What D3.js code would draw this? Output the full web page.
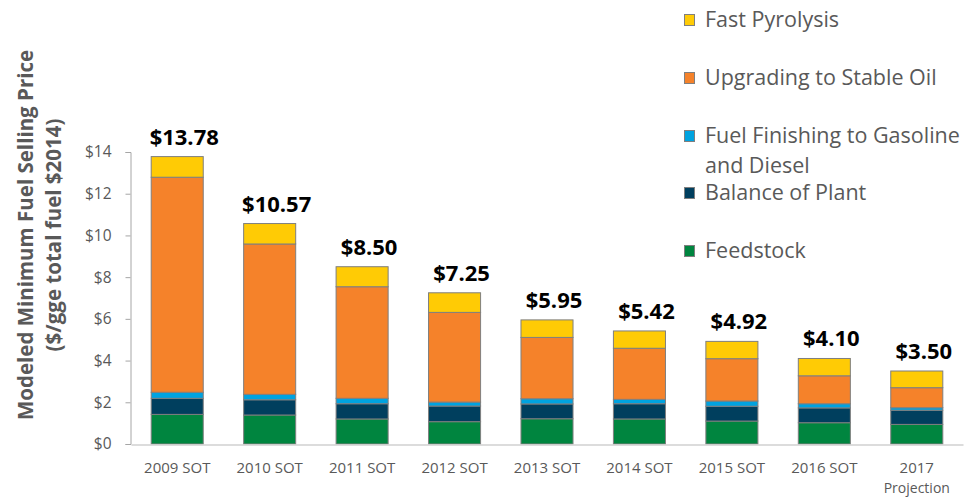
<!DOCTYPE html>
<html>
<head>
<meta charset="utf-8">
<script src="https://cdn.jsdelivr.net/npm/d3@7"></script>
<style>
  body { margin: 0; background: #fff; }
  svg { display: block; font-family: "Open Sans", sans-serif; }
</style>
</head>
<body>
<svg id="chart" width="964" height="498"></svg>
<script>
// categories and series ($/gge, 2014 dollars)
const years = ['2009 SOT', '2010 SOT', '2011 SOT', '2012 SOT', '2013 SOT', '2014 SOT', '2015 SOT', '2016 SOT', '2017\nProjection']
const feedstock = [1.42, 1.39, 1.20, 1.07, 1.21, 1.20, 1.10, 1.02, 0.94]
const balanceOfPlant = [0.77, 0.73, 0.73, 0.75, 0.71, 0.73, 0.71, 0.71, 0.68]
const fuelFinishing = [0.29, 0.26, 0.26, 0.19, 0.25, 0.21, 0.25, 0.20, 0.12]
const upgrading = [10.31, 7.21, 5.35, 4.30, 2.94, 2.45, 2.03, 1.34, 0.96]
const fastPyrolysis = [0.99, 0.98, 0.96, 0.94, 0.84, 0.83, 0.83, 0.83, 0.80]
const totals = ['$13.78', '$10.57', '$8.50', '$7.25', '$5.95', '$5.42', '$4.92', '$4.10', '$3.50']
const yTicks = [0, 2, 4, 6, 8, 10, 12, 14]

const seriesKeys = ['feedstock', 'bop', 'finishing', 'upgrading', 'pyrolysis']
const seriesNames = {
    feedstock: 'Feedstock',
    bop: 'Balance of Plant',
    finishing: 'Fuel Finishing to Gasoline\nand Diesel',
    upgrading: 'Upgrading to Stable Oil',
    pyrolysis: 'Fast Pyrolysis'
}
const colors = {
    feedstock: '#00853f',
    bop: '#003f5e',
    finishing: '#00a3e0',
    upgrading: '#f5822a',
    pyrolysis: '#ffcb05'
}

const table = years.map((yr, i) => ({
    year: yr,
    feedstock: feedstock[i],
    bop: balanceOfPlant[i],
    finishing: fuelFinishing[i],
    upgrading: upgrading[i],
    pyrolysis: fastPyrolysis[i],
    label: totals[i]
}))

const svg = d3.select('#chart')
const textGray = '#595959'

const x = d3.scaleBand()
    .domain(years)
    .range([131, 963])
    .paddingInner(0.437)
    .paddingOuter(0.2185)

const y = d3.scaleLinear()
    .domain([0, 14])
    .range([444, 152])

const stacked = d3.stack().keys(seriesKeys)(table)

// bars
svg.append('g')
    .selectAll('g')
    .data(stacked)
    .enter()
    .append('g')
    .attr('fill', d => colors[d.key])
    .selectAll('rect')
    .data(d => d)
    .enter()
    .append('rect')
    .attr('x', d => x(d.data.year))
    .attr('width', x.bandwidth())
    .attr('y', d => y(d[1]))
    .attr('height', d => y(d[0]) - y(d[1]))
    .attr('stroke', '#7f7f7f')
    .attr('stroke-width', 1)

// y axis
const yAxis = svg.append('g')
    .attr('transform', 'translate(130.5,0)')
    .call(d3.axisLeft(y).tickValues(yTicks).tickFormat(d => '$' + d).tickSizeOuter(0).tickSize(5).tickPadding(14))
yAxis.select('.domain').attr('stroke', '#a6a6a6')
yAxis.selectAll('.tick line').attr('stroke', '#a6a6a6')
yAxis.selectAll('.tick text')
    .attr('fill', textGray)
    .style('font-size', '15.5px')
    .style('font-family', '"Open Sans", sans-serif')

// x axis baseline + labels
const xAxis = svg.append('g')
    .attr('transform', 'translate(0,444.5)')
    .call(d3.axisBottom(x).tickSize(0).tickSizeOuter(0).tickFormat(''))
xAxis.select('.domain').attr('stroke', '#d0d0d0').attr('stroke-width', 1.5)
xAxis.selectAll('.tick').each(function (d) {
    const t = d3.select(this).select('text')
        .attr('fill', textGray)
        .attr('y', 28)
        .attr('dy', null)
        .style('font-size', '15px')
        .style('font-family', '"Open Sans", sans-serif')
    d.split('\n').forEach((line, i) => {
        t.append('tspan').attr('x', 0).attr('dy', i === 0 ? 0 : 20)
            .style('font-size', i === 0 ? '15px' : '14px')
            .text(line)
    })
})

// total labels
svg.append('g')
    .selectAll('text')
    .data(table)
    .enter()
    .append('text')
    .attr('x', d => x(d.year) + x.bandwidth() / 2 + 7)
    .attr('y', d => y(d.feedstock + d.bop + d.finishing + d.upgrading + d.pyrolysis) - 12)
    .attr('text-anchor', 'middle')
    .attr('fill', '#000')
    .style('font-size', '22px')
    .style('font-weight', 'bold')
    .text(d => d.label)

// y axis title
const title = svg.append('text')
    .attr('transform', 'translate(0,235) rotate(-90)')
    .attr('text-anchor', 'middle')
    .attr('fill', textGray)
    .style('font-weight', 'bold')
    .style('font-size', '20.5px')
title.append('tspan').attr('x', 0).attr('y', 33).text('Modeled Minimum Fuel Selling Price')
title.append('tspan').attr('x', 0).attr('y', 61).text('($/gge total fuel $2014)')

// legend (top to bottom as in the original)
const legendOrder = ['pyrolysis', 'upgrading', 'finishing', 'bop', 'feedstock']
const legendBase = [27, 85, 143, 200, 258]
const legend = svg.append('g')
legendOrder.forEach((k, i) => {
    const g = legend.append('g').attr('transform', 'translate(684,' + legendBase[i] + ')')
    g.append('rect')
        .attr('x', 0.5).attr('y', -12.5)
        .attr('width', 10).attr('height', 11)
        .attr('fill', colors[k])
        .attr('stroke', '#7f7f7f')
    const t = g.append('text')
        .attr('x', 21)
        .attr('fill', textGray)
        .style('font-size', '21.5px')
    seriesNames[k].split('\n').forEach((line, j) => {
        t.append('tspan').attr('x', 21).attr('dy', j === 0 ? 0 : 30).text(line)
    })
})
</script>
</body>
</html>
